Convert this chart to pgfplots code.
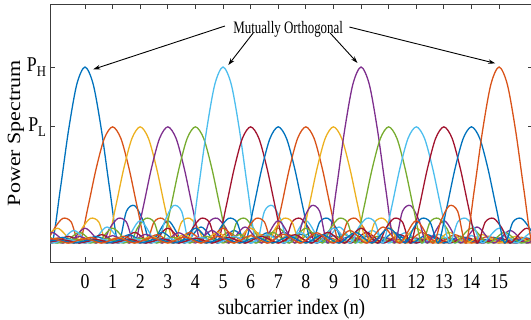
\documentclass[border=0pt]{standalone}
\usepackage{fontspec}
\setmainfont{Liberation Serif}[FakeStretch=0.85]
\newfontfamily\ylfont{Liberation Serif}
\newfontfamily\annfont{Liberation Serif}[FakeStretch=0.74]
\usepackage{graphicx}
\usepackage{pgfplots}
\pgfplotsset{compat=1.18}
\usetikzlibrary{arrows.meta}
\definecolor{c1}{RGB}{0,114,189}
\definecolor{c2}{RGB}{217,83,25}
\definecolor{c3}{RGB}{237,177,32}
\definecolor{c4}{RGB}{126,47,142}
\definecolor{c5}{RGB}{119,172,48}
\definecolor{c6}{RGB}{77,190,238}
\definecolor{c7}{RGB}{162,20,47}
\definecolor{axc}{RGB}{60,60,60}
\begin{document}
\begin{tikzpicture}
\begin{axis}[name=ax, scale only axis, width=482bp, height=258bp,
  xmin=-1.25, xmax=16.21, ymin=-0.108, ymax=1.358,
  axis line style={line width=0.8bp, color=axc},
  xtick={0,1,2,3,4,5,6,7,8,9,10,11,12,13,14,15},
  xticklabels={0,1,2,3,4,5,6,7,8,9,10,11,12,13,14,15},
  ytick={0.66,1},
  yticklabels={P\raisebox{-5bp}{\fontsize{15bp}{15bp}\selectfont L},P\raisebox{-5bp}{\fontsize{15bp}{15bp}\selectfont H}},
  tick align=inside, major tick length=5bp,
  tick style={line width=0.8bp, color=axc},
  every tick label/.append style={font=\fontsize{21bp}{25bp}\selectfont, text=black},
  xticklabel style={yshift=-9bp},
  yticklabel style={xshift=-1bp},
  xlabel={subcarrier index (n)},
  ylabel={\ylfont\scalebox{1}[0.85]{Power Spectrum}},
  label style={font=\fontsize{22bp}{26bp}\selectfont},
  xlabel style={yshift=-4bp},
  ylabel style={yshift=-4bp},
  every axis plot/.append style={smooth, line width=1.3bp, mark=none},
]
\addplot[c1] coordinates {(-1.8,0.212)(-1.5,0.180)(-1.2,0)(-0.9,0.300)(-0.6,0.637)(-0.3,0.900)(0,1)(0.3,0.900)(0.6,0.637)(0.9,0.300)(1.2,0)(1.5,0.180)(1.8,0.212)(2.1,0.129)(2.4,0)(3.0,0.127)(3.6,0)(4.2,0.091)(4.8,0)(5.4,0.071)(6.0,0)(6.6,0.058)(7.2,0)(7.8,0.049)(8.4,0)(9.0,0.042)(9.6,0)(10.2,0.037)(10.8,0)(11.4,0.034)(12.0,0)(12.6,0.030)(13.2,0)(13.8,0.028)(14.4,0)(15.0,0.025)(15.6,0)(16.2,0.024)(16.8,0)};
\addplot[c2] coordinates {(-1.4,0)(-1.1,0.085)(-0.8,0.140)(-0.5,0.119)(-0.2,0)(0.1,0.198)(0.4,0.420)(0.7,0.594)(1.0,0.660)(1.3,0.594)(1.6,0.420)(1.9,0.198)(2.2,0)(2.5,0.119)(2.8,0.140)(3.1,0.085)(3.4,0)(4.0,0.084)(4.6,0)(5.2,0.060)(5.8,0)(6.4,0.047)(7.0,0)(7.6,0.038)(8.2,0)(8.8,0.032)(9.4,0)(10.0,0.028)(10.6,0)(11.2,0.024)(11.8,0)(12.4,0.022)(13.0,0)(13.6,0.020)(14.2,0)(14.8,0.018)(15.4,0)(16.0,0.017)(16.6,0)};
\addplot[c3] coordinates {(-1.6,0)(-1.0,0.084)(-0.4,0)(-0.1,0.085)(0.2,0.140)(0.5,0.119)(0.8,0)(1.1,0.198)(1.4,0.420)(1.7,0.594)(2.0,0.660)(2.3,0.594)(2.6,0.420)(2.9,0.198)(3.2,0)(3.5,0.119)(3.8,0.140)(4.1,0.085)(4.4,0)(5.0,0.084)(5.6,0)(6.2,0.060)(6.8,0)(7.4,0.047)(8.0,0)(8.6,0.038)(9.2,0)(9.8,0.032)(10.4,0)(11.0,0.028)(11.6,0)(12.2,0.024)(12.8,0)(13.4,0.022)(14.0,0)(14.6,0.020)(15.2,0)(15.8,0.018)(16.4,0)};
\addplot[c4] coordinates {(-1.8,0)(-1.2,0.060)(-0.6,0)(0.0,0.084)(0.6,0)(0.9,0.085)(1.2,0.140)(1.5,0.119)(1.8,0)(2.1,0.198)(2.4,0.420)(2.7,0.594)(3.0,0.660)(3.3,0.594)(3.6,0.420)(3.9,0.198)(4.2,0)(4.5,0.119)(4.8,0.140)(5.1,0.085)(5.4,0)(6.0,0.084)(6.6,0)(7.2,0.060)(7.8,0)(8.4,0.047)(9.0,0)(9.6,0.038)(10.2,0)(10.8,0.032)(11.4,0)(12.0,0.028)(12.6,0)(13.2,0.024)(13.8,0)(14.4,0.022)(15.0,0)(15.6,0.020)(16.2,0)(16.8,0.018)};
\addplot[c5] coordinates {(-1.4,0.047)(-0.8,0)(-0.2,0.060)(0.4,0)(1.0,0.084)(1.6,0)(1.9,0.085)(2.2,0.140)(2.5,0.119)(2.8,0)(3.1,0.198)(3.4,0.420)(3.7,0.594)(4.0,0.660)(4.3,0.594)(4.6,0.420)(4.9,0.198)(5.2,0)(5.5,0.119)(5.8,0.140)(6.1,0.085)(6.4,0)(7.0,0.084)(7.6,0)(8.2,0.060)(8.8,0)(9.4,0.047)(10.0,0)(10.6,0.038)(11.2,0)(11.8,0.032)(12.4,0)(13.0,0.028)(13.6,0)(14.2,0.024)(14.8,0)(15.4,0.022)(16.0,0)(16.6,0.020)};
\addplot[c6] coordinates {(-1.6,0.058)(-1.0,0)(-0.4,0.071)(0.2,0)(0.8,0.091)(1.4,0)(2.0,0.127)(2.6,0)(2.9,0.129)(3.2,0.212)(3.5,0.180)(3.8,0)(4.1,0.300)(4.4,0.637)(4.7,0.900)(5.0,1)(5.3,0.900)(5.6,0.637)(5.9,0.300)(6.2,0)(6.5,0.180)(6.8,0.212)(7.1,0.129)(7.4,0)(8.0,0.127)(8.6,0)(9.2,0.091)(9.8,0)(10.4,0.071)(11.0,0)(11.6,0.058)(12.2,0)(12.8,0.049)(13.4,0)(14.0,0.042)(14.6,0)(15.2,0.037)(15.8,0)(16.4,0.034)};
\addplot[c7] coordinates {(-1.8,0.032)(-1.2,0)(-0.6,0.038)(0.0,0)(0.6,0.047)(1.2,0)(1.8,0.060)(2.4,0)(3.0,0.084)(3.6,0)(3.9,0.085)(4.2,0.140)(4.5,0.119)(4.8,0)(5.1,0.198)(5.4,0.420)(5.7,0.594)(6.0,0.660)(6.3,0.594)(6.6,0.420)(6.9,0.198)(7.2,0)(7.5,0.119)(7.8,0.140)(8.1,0.085)(8.4,0)(9.0,0.084)(9.6,0)(10.2,0.060)(10.8,0)(11.4,0.047)(12.0,0)(12.6,0.038)(13.2,0)(13.8,0.032)(14.4,0)(15.0,0.028)(15.6,0)(16.2,0.024)(16.8,0)};
\addplot[c1] coordinates {(-1.4,0)(-0.8,0.032)(-0.2,0)(0.4,0.038)(1.0,0)(1.6,0.047)(2.2,0)(2.8,0.060)(3.4,0)(4.0,0.084)(4.6,0)(4.9,0.085)(5.2,0.140)(5.5,0.119)(5.8,0)(6.1,0.198)(6.4,0.420)(6.7,0.594)(7.0,0.660)(7.3,0.594)(7.6,0.420)(7.9,0.198)(8.2,0)(8.5,0.119)(8.8,0.140)(9.1,0.085)(9.4,0)(10.0,0.084)(10.6,0)(11.2,0.060)(11.8,0)(12.4,0.047)(13.0,0)(13.6,0.038)(14.2,0)(14.8,0.032)(15.4,0)(16.0,0.028)(16.6,0)};
\addplot[c2] coordinates {(-1.6,0)(-1.0,0.028)(-0.4,0)(0.2,0.032)(0.8,0)(1.4,0.038)(2.0,0)(2.6,0.047)(3.2,0)(3.8,0.060)(4.4,0)(5.0,0.084)(5.6,0)(5.9,0.085)(6.2,0.140)(6.5,0.119)(6.8,0)(7.1,0.198)(7.4,0.420)(7.7,0.594)(8.0,0.660)(8.3,0.594)(8.6,0.420)(8.9,0.198)(9.2,0)(9.5,0.119)(9.8,0.140)(10.1,0.085)(10.4,0)(11.0,0.084)(11.6,0)(12.2,0.060)(12.8,0)(13.4,0.047)(14.0,0)(14.6,0.038)(15.2,0)(15.8,0.032)(16.4,0)};
\addplot[c3] coordinates {(-1.8,0)(-1.2,0.024)(-0.6,0)(0.0,0.028)(0.6,0)(1.2,0.032)(1.8,0)(2.4,0.038)(3.0,0)(3.6,0.047)(4.2,0)(4.8,0.060)(5.4,0)(6.0,0.084)(6.6,0)(6.9,0.085)(7.2,0.140)(7.5,0.119)(7.8,0)(8.1,0.198)(8.4,0.420)(8.7,0.594)(9.0,0.660)(9.3,0.594)(9.6,0.420)(9.9,0.198)(10.2,0)(10.5,0.119)(10.8,0.140)(11.1,0.085)(11.4,0)(12.0,0.084)(12.6,0)(13.2,0.060)(13.8,0)(14.4,0.047)(15.0,0)(15.6,0.038)(16.2,0)(16.8,0.032)};
\addplot[c4] coordinates {(-1.4,0.034)(-0.8,0)(-0.2,0.037)(0.4,0)(1.0,0.042)(1.6,0)(2.2,0.049)(2.8,0)(3.4,0.058)(4.0,0)(4.6,0.071)(5.2,0)(5.8,0.091)(6.4,0)(7.0,0.127)(7.6,0)(7.9,0.129)(8.2,0.212)(8.5,0.180)(8.8,0)(9.1,0.300)(9.4,0.637)(9.7,0.900)(10.0,1)(10.3,0.900)(10.6,0.637)(10.9,0.300)(11.2,0)(11.5,0.180)(11.8,0.212)(12.1,0.129)(12.4,0)(13.0,0.127)(13.6,0)(14.2,0.091)(14.8,0)(15.4,0.071)(16.0,0)(16.6,0.058)};
\addplot[c5] coordinates {(-1.6,0.020)(-1.0,0)(-0.4,0.022)(0.2,0)(0.8,0.024)(1.4,0)(2.0,0.028)(2.6,0)(3.2,0.032)(3.8,0)(4.4,0.038)(5.0,0)(5.6,0.047)(6.2,0)(6.8,0.060)(7.4,0)(8.0,0.084)(8.6,0)(8.9,0.085)(9.2,0.140)(9.5,0.119)(9.8,0)(10.1,0.198)(10.4,0.420)(10.7,0.594)(11.0,0.660)(11.3,0.594)(11.6,0.420)(11.9,0.198)(12.2,0)(12.5,0.119)(12.8,0.140)(13.1,0.085)(13.4,0)(14.0,0.084)(14.6,0)(15.2,0.060)(15.8,0)(16.4,0.047)};
\addplot[c6] coordinates {(-1.8,0.018)(-1.2,0)(-0.6,0.020)(0.0,0)(0.6,0.022)(1.2,0)(1.8,0.024)(2.4,0)(3.0,0.028)(3.6,0)(4.2,0.032)(4.8,0)(5.4,0.038)(6.0,0)(6.6,0.047)(7.2,0)(7.8,0.060)(8.4,0)(9.0,0.084)(9.6,0)(9.9,0.085)(10.2,0.140)(10.5,0.119)(10.8,0)(11.1,0.198)(11.4,0.420)(11.7,0.594)(12.0,0.660)(12.3,0.594)(12.6,0.420)(12.9,0.198)(13.2,0)(13.5,0.119)(13.8,0.140)(14.1,0.085)(14.4,0)(15.0,0.084)(15.6,0)(16.2,0.060)(16.8,0)};
\addplot[c7] coordinates {(-1.4,0)(-0.8,0.018)(-0.2,0)(0.4,0.020)(1.0,0)(1.6,0.022)(2.2,0)(2.8,0.024)(3.4,0)(4.0,0.028)(4.6,0)(5.2,0.032)(5.8,0)(6.4,0.038)(7.0,0)(7.6,0.047)(8.2,0)(8.8,0.060)(9.4,0)(10.0,0.084)(10.6,0)(10.9,0.085)(11.2,0.140)(11.5,0.119)(11.8,0)(12.1,0.198)(12.4,0.420)(12.7,0.594)(13.0,0.660)(13.3,0.594)(13.6,0.420)(13.9,0.198)(14.2,0)(14.5,0.119)(14.8,0.140)(15.1,0.085)(15.4,0)(16.0,0.084)(16.6,0)};
\addplot[c1] coordinates {(-1.6,0)(-1.0,0.017)(-0.4,0)(0.2,0.018)(0.8,0)(1.4,0.020)(2.0,0)(2.6,0.022)(3.2,0)(3.8,0.024)(4.4,0)(5.0,0.028)(5.6,0)(6.2,0.032)(6.8,0)(7.4,0.038)(8.0,0)(8.6,0.047)(9.2,0)(9.8,0.060)(10.4,0)(11.0,0.084)(11.6,0)(11.9,0.085)(12.2,0.140)(12.5,0.119)(12.8,0)(13.1,0.198)(13.4,0.420)(13.7,0.594)(14.0,0.660)(14.3,0.594)(14.6,0.420)(14.9,0.198)(15.2,0)(15.5,0.119)(15.8,0.140)(16.1,0.085)(16.4,0)};
\addplot[c2] coordinates {(-1.8,0)(-1.2,0.024)(-0.6,0)(0.0,0.025)(0.6,0)(1.2,0.028)(1.8,0)(2.4,0.030)(3.0,0)(3.6,0.034)(4.2,0)(4.8,0.037)(5.4,0)(6.0,0.042)(6.6,0)(7.2,0.049)(7.8,0)(8.4,0.058)(9.0,0)(9.6,0.071)(10.2,0)(10.8,0.091)(11.4,0)(12.0,0.127)(12.6,0)(12.9,0.129)(13.2,0.212)(13.5,0.180)(13.8,0)(14.1,0.300)(14.4,0.637)(14.7,0.900)(15.0,1)(15.3,0.900)(15.6,0.637)(15.9,0.300)(16.2,0)(16.5,0.180)};
\node[anchor=base, font=\annfont\fontsize{17.5bp}{20bp}\selectfont, inner sep=1bp] at (axis cs:7.36,1.188) {Mutually Orthogonal};
\draw[-{Stealth[length=7bp,width=4.5bp]}, line width=0.9bp] (axis cs:5.07,1.233) -- (axis cs:0.30,0.987);
\draw[-{Stealth[length=7bp,width=4.5bp]}, line width=0.9bp] (axis cs:6.09,1.193) -- (axis cs:5.19,1.011);
\draw[-{Stealth[length=7bp,width=4.5bp]}, line width=0.9bp] (axis cs:8.88,1.193) -- (axis cs:9.87,1.023);
\draw[-{Stealth[length=7bp,width=4.5bp]}, line width=0.9bp] (axis cs:9.58,1.227) -- (axis cs:14.86,1.021);
\end{axis}
\pgfresetboundingbox
\path[use as bounding box] ([shift={(-50.5bp,-58bp)}]ax.south west) rectangle ([shift={(480.5bp,262bp)}]ax.south west);
\end{tikzpicture}
\end{document}
